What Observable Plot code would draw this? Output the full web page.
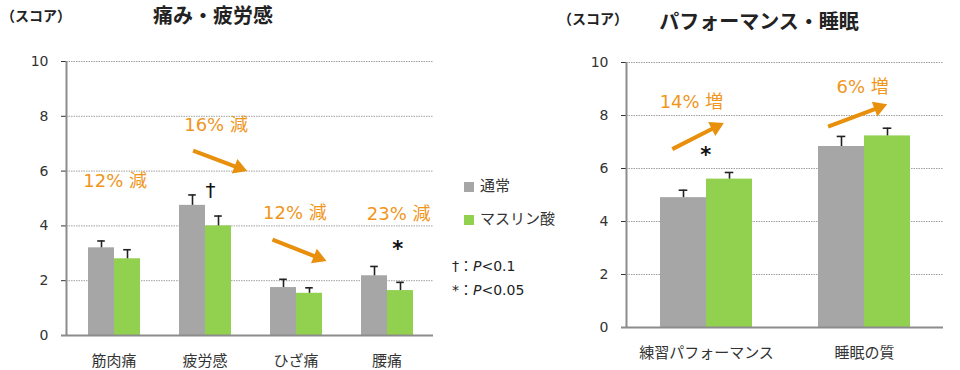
<!DOCTYPE html>
<html><head><meta charset="utf-8">
<script src="https://cdn.jsdelivr.net/npm/d3@7"></script>
<script src="https://cdn.jsdelivr.net/npm/@observablehq/plot@0.6"></script>
<style>
body{margin:0;background:#fff;font-family:"DejaVu Sans","Noto Sans CJK JP",sans-serif;}
#root{position:relative;width:960px;height:370px;overflow:hidden;background:#fff}
.layer{position:absolute;top:0}
.layer svg{display:block}
.t{position:absolute;white-space:nowrap;color:#222;line-height:1}
</style></head>
<body><div id="root"></div>
<script>
// ---- data ----
const seriesNames = ["通常", "マスリン酸"];
const seriesColors = ["#a6a6a6", "#92d050"];
const yTicks = [0, 2, 4, 6, 8, 10];

const painCategories = ["筋肉痛", "疲労感", "ひざ痛", "腰痛"];
const painNormal = [3.2, 4.75, 1.75, 2.18];
const painNormalErr = [0.25, 0.38, 0.3, 0.34];
const painMaslinic = [2.8, 4.0, 1.54, 1.64];
const painMaslinicErr = [0.33, 0.36, 0.2, 0.3];
const painChangeText = ["12% 減", "16% 減", "12% 減", "23% 減"];
const painSigText = ["†", "*"];

const perfCategories = ["練習パフォーマンス", "睡眠の質"];
const perfNormal = [4.9, 6.83];
const perfNormalErr = [0.28, 0.38];
const perfMaslinic = [5.6, 7.23];
const perfMaslinicErr = [0.25, 0.29];
const perfChangeText = ["14% 増", "6% 増"];
const perfSigText = ["*"];

const FONT = '"DejaVu Sans","Noto Sans CJK JP",sans-serif';
const ORANGE = "#e88f0c";
const ORANGE_TEXT = "#f0961c";
const H = 370;
const HEAD_R = 5.8; // arrow head symbol radius

const root = document.getElementById("root");

function addLayer(svg, left) {
  const d = document.createElement("div");
  d.className = "layer";
  d.style.left = left + "px";
  d.appendChild(svg);
  root.appendChild(d);
}
function addText(html, css) {
  const d = document.createElement("div");
  d.className = "t";
  d.innerHTML = html;
  Object.assign(d.style, css);
  root.appendChild(d);
}

function buildPanel(p) {
  const rows = [];
  p.cats.forEach((c, i) => {
    rows.push({cat: c, series: seriesNames[0], value: p.normal[i], err: p.normalErr[i]});
    rows.push({cat: c, series: seriesNames[1], value: p.maslinic[i], err: p.maslinicErr[i]});
  });
  const common = {width: p.width, height: H, marginLeft: p.ml, marginRight: p.mr, marginTop: p.mt, marginBottom: p.mb};
  const n = p.cats.length;

  // grid layer
  const grid = Plot.plot({
    ...common,
    style: {fontFamily: FONT, background: "transparent", overflow: "visible"},
    x: {domain: [0, n], axis: null},
    y: {domain: [0, 10], axis: null},
    marks: [
      Plot.ruleY(yTicks.filter(t => t > 0), {stroke: "#a0a0a0", strokeWidth: 1, strokeDasharray: "1.5,1"})
    ]
  });
  addLayer(grid, p.left);
  const sx = grid.scale("x"), sy = grid.scale("y");

  // arrow geometry: shaft to the head's centroid, head as a rotated triangle symbol
  const yy = HEAD_R * Math.sqrt(Math.PI / (3 * Math.sqrt(3)));
  const heads = p.arrows.map(a => {
    const px1 = sx.apply(a.x1), py1 = sy.apply(a.y1), px2 = sx.apply(a.x2), py2 = sy.apply(a.y2);
    const L = Math.hypot(px2 - px1, py2 - py1);
    const ux = (px2 - px1) / L, uy = (py2 - py1) / L;
    const cx = px2 - ux * 2 * yy, cy = py2 - uy * 2 * yy;
    return {x1: a.x1, y1: a.y1, x: sx.invert(cx), y: sy.invert(cy), angle: Math.atan2(ux, -uy) * 180 / Math.PI};
  });

  // bars layer (faceted by category)
  const bars = Plot.plot({
    ...common,
    style: {fontFamily: FONT, background: "transparent", overflow: "visible", fontSize: "15px", color: "#333"},
    fx: {domain: p.cats, paddingInner: 0.42, paddingOuter: 0.21, label: null, axis: "bottom", tickSize: 0, tickPadding: 20},
    x: {domain: seriesNames, padding: 0, axis: null},
    y: {domain: [0, 10], axis: null},
    color: {domain: seriesNames, range: seriesColors},
    marks: [
      Plot.barY(rows, {fx: "cat", x: "series", y: "value", fill: "series"}),
      Plot.ruleX(rows, {fx: "cat", x: "series", y1: "value", y2: d => d.value + d.err, stroke: "#222", strokeWidth: 1.6}),
      Plot.tickY(rows, {fx: "cat", x: "series", y: d => d.value + d.err, stroke: "#222", strokeWidth: 1.6, inset: p.capInset})
    ]
  });
  addLayer(bars, p.left);

  // axes + annotations layer
  const top = Plot.plot({
    ...common,
    style: {fontFamily: FONT, background: "transparent", overflow: "visible", fontSize: "14px", color: "#333"},
    x: {domain: [0, n], axis: null},
    y: {domain: [0, 10], ticks: yTicks, tickSize: 5, tickPadding: 13, label: null},
    marks: [
      Plot.ruleX([0], {stroke: "#8c8c8c", strokeWidth: 2}),
      Plot.ruleY([0], {stroke: "#8c8c8c", strokeWidth: 2, insetLeft: -5}),
      Plot.link(heads, {x1: "x1", y1: "y1", x2: "x", y2: "y", stroke: ORANGE, strokeWidth: 4}),
      Plot.dot(heads, {x: "x", y: "y", symbol: "triangle", r: HEAD_R, rotate: "angle", fill: ORANGE, stroke: "none"}),
      Plot.text(p.labels, {x: "x", y: "y", text: "text", fill: ORANGE_TEXT, fontSize: 18}),
      Plot.text(p.sig.filter(d => d.text !== "*"), {x: "x", y: "y", text: "text", fill: "#111", fontSize: 20}),
      Plot.text(p.sig.filter(d => d.text === "*"), {x: "x", y: "y", text: "text", fill: "#111", fontSize: 21, fontWeight: "bold"})
    ]
  });
  addLayer(top, p.left);
}

buildPanel({
  left: 0, width: 440, ml: 66, mr: 7, mt: 61, mb: 35, capInset: 9.2,
  cats: painCategories, normal: painNormal, normalErr: painNormalErr,
  maslinic: painMaslinic, maslinicErr: painMaslinicErr,
  labels: [
    {x: 0.53, y: 5.62, text: painChangeText[0]},
    {x: 1.63, y: 7.66, text: painChangeText[1]},
    {x: 2.49, y: 4.45, text: painChangeText[2]},
    {x: 3.62, y: 4.42, text: painChangeText[3]}
  ],
  arrows: [
    {x1: 1.38, y1: 6.75, x2: 1.97, y2: 6.0},
    {x1: 2.245, y1: 3.5, x2: 2.834, y2: 2.72}
  ],
  sig: [
    {x: 1.57, y: 5.3, text: painSigText[0]},
    {x: 3.61, y: 3.15, text: painSigText[1]}
  ]
});

buildPanel({
  left: 560, width: 400, ml: 66, mr: 17, mt: 62, mb: 43, capInset: 18.7,
  cats: perfCategories, normal: perfNormal, normalErr: perfNormalErr,
  maslinic: perfMaslinic, maslinicErr: perfMaslinicErr,
  labels: [
    {x: 0.41, y: 8.49, text: perfChangeText[0]},
    {x: 1.49, y: 9.08, text: perfChangeText[1]}
  ],
  arrows: [
    {x1: 0.289, y1: 6.73, x2: 0.614, y2: 7.72},
    {x1: 1.272, y1: 7.58, x2: 1.645, y2: 8.42}
  ],
  sig: [
    {x: 0.5, y: 6.5, text: perfSigText[0]}
  ]
});

// titles
addText("（スコア）", {left: "1px", top: "8px", fontSize: "14px", fontWeight: "bold", fontFamily: '"Noto Sans CJK JP",sans-serif'});
addText("痛み・疲労感", {left: "213px", top: "5px", transform: "translateX(-50%)", fontSize: "20px", fontWeight: "bold", fontFamily: '"Noto Sans CJK JP",sans-serif'});
addText("（スコア）", {left: "558px", top: "11px", fontSize: "14px", fontWeight: "bold", fontFamily: '"Noto Sans CJK JP",sans-serif'});
addText("パフォーマンス・睡眠", {left: "759px", top: "11px", transform: "translateX(-50%)", fontSize: "20px", fontWeight: "bold", fontFamily: '"Noto Sans CJK JP",sans-serif'});

// legend
addText('<span style="display:inline-block;width:10px;height:10px;background:' + seriesColors[0] + ';vertical-align:middle;margin-right:6px"></span><span style="vertical-align:middle">' + seriesNames[0] + '</span>', {left: "464px", top: "179px", fontSize: "15px", color: "#333"});
addText('<span style="display:inline-block;width:10px;height:10px;background:' + seriesColors[1] + ';vertical-align:middle;margin-right:6px"></span><span style="vertical-align:middle">' + seriesNames[1] + '</span>', {left: "464px", top: "212px", fontSize: "15px", color: "#333"});
addText('†：<i>P</i>&lt;0.1', {left: "452px", top: "259px", fontSize: "14px", color: "#222"});
addText('*：<i>P</i>&lt;0.05', {left: "452px", top: "283px", fontSize: "14px", color: "#222"});
</script>
</body></html>
